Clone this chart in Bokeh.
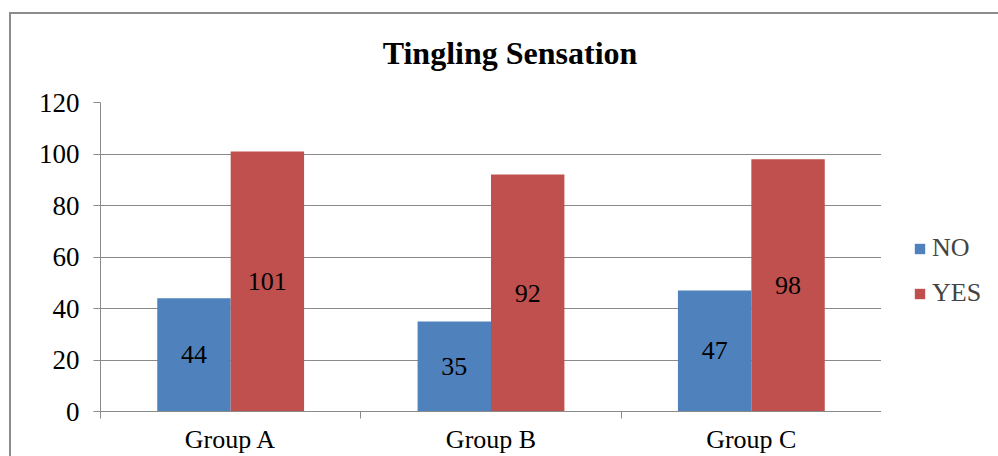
from bokeh.plotting import figure
from bokeh.layouts import row, column
from bokeh.core.properties import value
from bokeh.models import (Range1d, FixedTicker, Legend, LegendItem, ColumnDataSource,
                          LabelSet)
from bokeh.embed import file_html
from bokeh.resources import INLINE

title_text = "Tingling Sensation"
groups = ["Group A", "Group B", "Group C"]
no_vals = [44, 35, 47]
yes_vals = [101, 92, 98]
y_ticks = [0, 20, 40, 60, 80, 100, 120]
series = ["NO", "YES"]

BLUE = "#4F81BD"
RED = "#C0504D"
GRAY = "#8a8a8a"
SERIF = "Liberation Serif"

idx = list(range(len(groups)))
bar_w = 0.282
half = bar_w / 2

src_no = ColumnDataSource(dict(x=[i + 0.5 - half for i in idx], top=no_vals,
                               mid=[v / 2 for v in no_vals], lab=[str(v) for v in no_vals]))
src_yes = ColumnDataSource(dict(x=[i + 0.5 + half for i in idx], top=yes_vals,
                                mid=[v / 2 for v in yes_vals], lab=[str(v) for v in yes_vals]))

# title strip (pixel-mapped ranges)
TW, TH = 987, 68
t = figure(width=TW, height=TH, output_backend="svg", toolbar_location=None,
           x_axis_location=None, y_axis_location=None,
           x_range=Range1d(0, TW), y_range=Range1d(0, TH),
           min_border_left=0, min_border_right=0, min_border_top=0, min_border_bottom=0)
t.outline_line_color = None
t.grid.visible = False
t.text(x=[TW / 2 + 5], y=[TH - 38], text=[title_text], text_align="center",
       text_baseline="middle", text_font=value(SERIF), text_font_size="32px",
       text_font_style="bold", text_color="black")

# main chart
PH = 442 - TH
p = figure(width=870, height=PH, output_backend="svg", toolbar_location=None,
           x_range=Range1d(0, len(groups)), y_range=Range1d(0, 120),
           min_border_left=89, min_border_right=0, min_border_top=20, min_border_bottom=44)

p.outline_line_color = None
p.xgrid.visible = False
p.ygrid.grid_line_color = GRAY
p.ygrid.grid_line_width = 1

# bars
r_no = p.vbar(x="x", top="top", width=bar_w, source=src_no, fill_color=BLUE, line_color=None)
r_yes = p.vbar(x="x", top="top", width=bar_w, source=src_yes, fill_color=RED, line_color=None)

# value labels centred inside bars
for src in (src_no, src_yes):
    p.add_layout(LabelSet(x="x", y="mid", text="lab", source=src, text_align="center",
                          text_baseline="middle", text_font=SERIF, text_font_size="26px",
                          text_color="black"))

# y axis
ya = p.yaxis[0]
ya.ticker = FixedTicker(ticks=y_ticks)
ya.axis_line_color = GRAY
ya.major_tick_line_color = GRAY
ya.major_tick_out = 7
ya.major_tick_in = 0
ya.minor_tick_line_color = None
ya.major_label_text_font = SERIF
ya.major_label_text_font_size = "27px"
ya.major_label_text_color = "black"
ya.major_label_standoff = 14

# x axis: labels at group centres, ticks at group boundaries
xa = p.xaxis[0]
xa.ticker = FixedTicker(ticks=[i + 0.5 for i in idx], minor_ticks=list(range(len(groups) + 1)))
xa.major_label_overrides = {i + 0.5: g for i, g in zip(idx, groups)}
xa.axis_line_color = GRAY
xa.major_tick_line_color = None
xa.major_tick_out = 0
xa.major_tick_in = 0
xa.minor_tick_line_color = GRAY
xa.minor_tick_out = 7
xa.minor_tick_in = 0
xa.major_label_text_font = SERIF
xa.major_label_text_font_size = "26px"
xa.major_label_text_color = "black"
xa.major_label_standoff = 6

# legend strip to the right of the chart
q = figure(width=117, height=PH, output_backend="svg", toolbar_location=None,
           x_axis_location=None, y_axis_location=None,
           x_range=Range1d(0, 1), y_range=Range1d(0, 1),
           min_border_left=0, min_border_right=0, min_border_top=0, min_border_bottom=0)
q.outline_line_color = None
q.grid.visible = False
# off-range proxies that only supply the legend swatches
l_no = q.vbar(x=[5], top=[5], width=0.1, fill_color=BLUE, line_color=None)
l_yes = q.vbar(x=[5], top=[5], width=0.1, fill_color=RED, line_color=None)

legend = Legend(items=[LegendItem(label=series[0], renderers=[l_no]),
                       LegendItem(label=series[1], renderers=[l_yes])],
                location=(32, 103), orientation="vertical",
                glyph_width=13, glyph_height=13, label_standoff=6, spacing=15,
                label_text_font=SERIF, label_text_font_size="26px",
                border_line_color=None, background_fill_alpha=0, padding=0, margin=0)
q.add_layout(legend, "center")

layout = column(t, row(p, q, spacing=0), spacing=0)
layout.margin = (12, 0, 0, 9)
layout.styles = {"border-left": "2px solid #8c8c8c", "border-top": "2px solid #8c8c8c"}

open("out.html", "w").write(file_html(layout, INLINE))
